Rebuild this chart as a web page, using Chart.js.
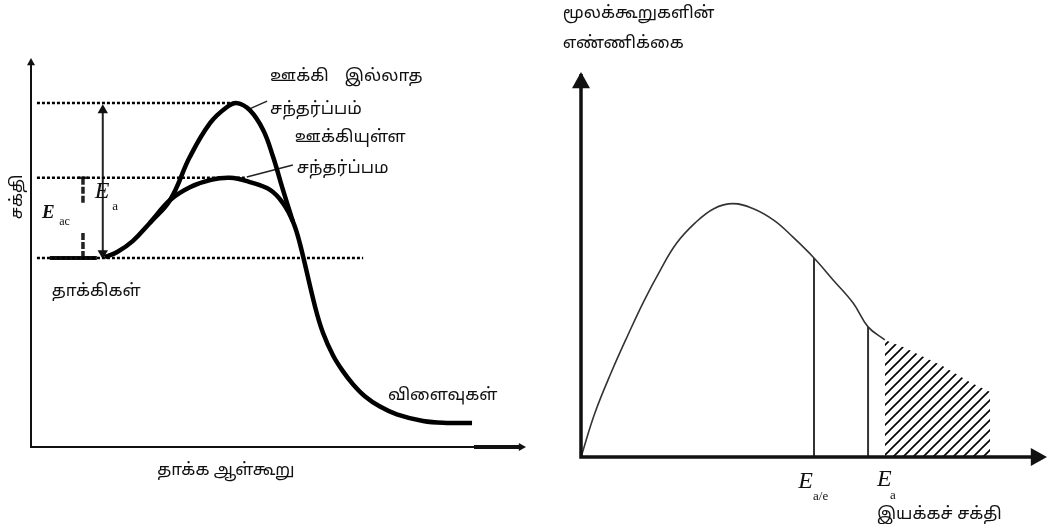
<!DOCTYPE html>
<html>
<head>
<meta charset="utf-8">
<script src="https://cdn.jsdelivr.net/npm/chart.js@4.4.1/dist/chart.umd.min.js"></script>
<style>
  body { margin: 0; background: #fff; }
  #wrap { position: relative; width: 1056px; height: 524px; }
  canvas { position: absolute; top: 0; }
  #left { left: 0; }
  #right { left: 540px; }
</style>
</head>
<body>
<div id="wrap">
  <canvas id="left" width="540" height="524"></canvas>
  <canvas id="right" width="516" height="524"></canvas>
</div>
<script>
// ---- left chart: energy profile (arbitrary units 0..10)
var catX = [1.49, 1.75, 2.06, 2.40, 2.81, 3.21, 3.62, 4.02, 4.42, 4.83, 5.09, 5.29, 5.43, 5.74, 5.90, 6.10, 6.30, 6.50, 6.75, 7.05, 7.39, 7.92, 8.40, 8.91];
var catE = [4.88, 5.02, 5.30, 5.76, 6.35, 6.68, 6.86, 6.92, 6.81, 6.61, 6.27, 5.80, 5.24, 3.60, 2.93, 2.36, 1.95, 1.62, 1.30, 1.04, 0.84, 0.67, 0.62, 0.62];
var uncatX = [2.40, 2.81, 3.21, 3.62, 3.96, 4.16, 4.42, 4.69, 4.89, 5.09, 5.29];
var uncatE = [5.76, 6.35, 7.46, 8.33, 8.74, 8.84, 8.66, 8.15, 7.46, 6.61, 5.80];
var reactantE = 4.86, tsCatE = 6.92, tsUncatE = 8.84;

// ---- right chart: distribution of molecules over kinetic energy
var mbX = [0, 0.30, 0.65, 1.00, 1.35, 1.70, 2.05, 2.45, 2.85, 3.26, 3.70, 4.15, 4.55, 5.00, 5.41, 5.84, 6.16, 6.52];
var mbN = [0, 1.15, 2.20, 3.15, 4.05, 4.85, 5.55, 6.08, 6.45, 6.58, 6.45, 6.14, 5.71, 5.17, 4.60, 4.00, 3.38, 3.04];
var tailX = [6.52, 6.91, 7.77, 8.35, 8.78];
var tailN = [3.04, 2.86, 2.36, 1.94, 1.69];
var eaCatX = 5.00, eaCatN = 5.17;
var eaX = 6.16, eaN = 3.38;

var tamil = '"Noto Sans Tamil", "Lohit Tamil", "Latha", "Noto Sans", sans-serif';
var serif = '"Liberation Serif", "DejaVu Serif", serif';

function pts(xs, ys) {
  return xs.map(function (x, i) { return { x: x, y: ys[i] }; });
}

function seg(x1, y1, x2, y2) {
  return [{ x: x1, y: y1 }, { x: x2, y: y2 }];
}

function hatch() {
  var c = document.createElement('canvas');
  c.width = 10; c.height = 10;
  var g = c.getContext('2d');
  g.strokeStyle = '#000';
  g.lineWidth = 1.6;
  g.beginPath();
  g.moveTo(0, 10); g.lineTo(10, 0);
  g.moveTo(-2, 2); g.lineTo(2, -2);
  g.moveTo(8, 12); g.lineTo(12, 8);
  g.stroke();
  return g.createPattern(c, 'repeat');
}

// axes with arrow heads + text labels, positions in data units
var extras = {
  id: 'extras',
  afterDraw: function (chart) {
    var o = chart.options.plugins.extras;
    var ctx = chart.ctx, a = chart.chartArea;
    var sx = chart.scales.x, sy = chart.scales.y;
    ctx.save();
    ctx.strokeStyle = '#111';
    ctx.fillStyle = '#111';
    ctx.lineWidth = o.axisWidth;
    ctx.beginPath();
    ctx.moveTo(a.left, a.top + 2);
    ctx.lineTo(a.left, a.bottom);
    ctx.lineTo(a.right - 4, a.bottom);
    ctx.stroke();
    var h = o.head;
    ctx.beginPath();
    ctx.moveTo(a.left, a.top);
    ctx.lineTo(a.left - h / 2, a.top + h * 0.9);
    ctx.lineTo(a.left + h / 2, a.top + h * 0.9);
    ctx.closePath();
    ctx.fill();
    ctx.beginPath();
    ctx.moveTo(a.right, a.bottom);
    ctx.lineTo(a.right - h * 0.9, a.bottom - h / 2);
    ctx.lineTo(a.right - h * 0.9, a.bottom + h / 2);
    ctx.closePath();
    ctx.fill();
    if (o.thickEnd) {
      ctx.lineWidth = 4;
      ctx.beginPath();
      ctx.moveTo(sx.getPixelForValue(o.thickEnd), a.bottom);
      ctx.lineTo(a.right - 4, a.bottom);
      ctx.stroke();
    }
    ctx.textBaseline = 'middle';
    ctx.textAlign = 'left';
    o.labels.forEach(function (l) {
      ctx.font = l.font;
      var px = sx.getPixelForValue(l.x), py = sy.getPixelForValue(l.y);
      if (l.rot) {
        ctx.save();
        ctx.translate(px, py);
        ctx.rotate(l.rot);
        ctx.textAlign = 'center';
        ctx.fillText(l.t, 0, 0);
        ctx.restore();
      } else {
        ctx.fillText(l.t, px, py);
      }
    });
    ctx.restore();
  }
};

function scalesCfg() {
  return {
    x: { type: 'linear', min: 0, max: 10, display: false },
    y: { type: 'linear', min: 0, max: 10, display: false }
  };
}

var t17 = '17px ' + tamil;

new Chart(document.getElementById('left').getContext('2d'), {
  type: 'line',
  data: {
    datasets: [
      { data: pts(catX, catE), borderColor: '#000', borderWidth: 4.5, tension: 0.4 },
      { data: pts(uncatX, uncatE), borderColor: '#000', borderWidth: 4.5, tension: 0.4 },
      { data: seg(0.12, tsUncatE, 4.22, tsUncatE), borderColor: '#000', borderWidth: 2.5, borderDash: [3, 2] },
      { data: seg(0.12, tsCatE, 4.32, tsCatE), borderColor: '#000', borderWidth: 2.5, borderDash: [3, 2] },
      { data: seg(0.12, reactantE, 6.71, reactantE), borderColor: '#000', borderWidth: 2.5, borderDash: [3, 2] },
      { data: seg(0.38, reactantE, 1.33, reactantE), borderColor: '#111', borderWidth: 4 },
      { data: seg(1.45, reactantE + 0.12, 1.45, tsUncatE - 0.18), borderColor: '#222', borderWidth: 2,
        pointRadius: 6, pointStyle: 'triangle', pointRotation: [180, 0], pointBackgroundColor: '#111', pointBorderWidth: 0 },
      { data: seg(1.05, tsCatE, 1.05, 6.25), borderColor: '#222', borderWidth: 3.5, borderDash: [7, 2],
        pointRadius: [5, 0], pointStyle: 'line', pointBorderColor: '#222', pointBorderWidth: 2.5 },
      { data: seg(1.05, 5.5, 1.05, reactantE), borderColor: '#222', borderWidth: 3.5, borderDash: [7, 2] },
      { data: seg(4.36, 8.66, 4.77, 8.89), borderColor: '#222', borderWidth: 1.5 },
      { data: seg(4.36, 6.94, 5.29, 7.25), borderColor: '#222', borderWidth: 1.5 }
    ]
  },
  options: {
    responsive: false,
    animation: false,
    devicePixelRatio: 1,
    layout: { padding: { left: 31, right: 14, top: 58, bottom: 77 } },
    scales: scalesCfg(),
    elements: { point: { radius: 0 } },
    datasets: { line: { clip: false } },
    plugins: {
      legend: { display: false },
      tooltip: { enabled: false },
      extras: {
        axisWidth: 2, head: 8, thickEnd: 8.95,
        labels: [
          { t: 'ஊக்கி', x: 4.83, y: 9.49, font: t17 },
          { t: 'இல்லாத', x: 6.34, y: 9.49, font: t17 },
          { t: 'சந்தர்ப்பம்', x: 4.83, y: 8.64, font: t17 },
          { t: 'ஊக்கியுள்ள', x: 5.33, y: 7.92, font: t17 },
          { t: 'சந்தர்ப்பம', x: 5.37, y: 7.12, font: t17 },
          { t: 'தாக்கிகள்', x: 0.42, y: 3.96, font: t17 },
          { t: 'விளைவுகள்', x: 7.21, y: 1.29, font: t17 },
          { t: 'தாக்க ஆள்கூறு', x: 2.55, y: -0.64, font: t17 },
          { t: 'சக்தி', x: -0.26, y: 6.43, font: t17, rot: -Math.PI / 2 },
          { t: 'E', x: 1.29, y: 6.56, font: 'italic 24px ' + serif },
          { t: 'a', x: 1.64, y: 6.17, font: '13px ' + serif },
          { t: 'E', x: 0.22, y: 6.02, font: 'italic bold 19px ' + serif },
          { t: 'ac', x: 0.57, y: 5.78, font: '12px ' + serif }
        ]
      }
    }
  },
  plugins: [extras]
});

new Chart(document.getElementById('right').getContext('2d'), {
  type: 'line',
  data: {
    datasets: [
      { data: pts(mbX, mbN), borderColor: '#333', borderWidth: 1.6, tension: 0.4 },
      { data: pts(tailX, tailN), borderColor: 'rgba(0,0,0,0)', borderWidth: 1, fill: 'origin', backgroundColor: hatch() },
      { data: seg(eaCatX, 0, eaCatX, eaCatN), borderColor: '#333', borderWidth: 2 },
      { data: seg(eaX, 0, eaX, eaN), borderColor: '#333', borderWidth: 2 }
    ]
  },
  options: {
    responsive: false,
    animation: false,
    devicePixelRatio: 1,
    layout: { padding: { left: 41, right: 9, top: 72, bottom: 67 } },
    scales: scalesCfg(),
    elements: { point: { radius: 0 } },
    datasets: { line: { clip: false } },
    plugins: {
      legend: { display: false },
      tooltip: { enabled: false },
      extras: {
        axisWidth: 3.5, head: 18,
        labels: [
          { t: 'மூலக்கூறுகளின்', x: -0.39, y: 11.48, font: t17 },
          { t: 'எண்ணிக்கை', x: -0.39, y: 10.70, font: t17 },
          { t: 'E', x: 4.66, y: -0.65, font: 'italic 24px ' + serif },
          { t: 'a/e', x: 4.98, y: -1.04, font: '13px ' + serif },
          { t: 'E', x: 6.35, y: -0.60, font: 'italic 24px ' + serif },
          { t: 'a', x: 6.63, y: -1.01, font: '13px ' + serif },
          { t: 'இயக்கச் சக்தி', x: 6.35, y: -1.51, font: t17 }
        ]
      }
    }
  },
  plugins: [extras]
});
</script>
</body>
</html>
